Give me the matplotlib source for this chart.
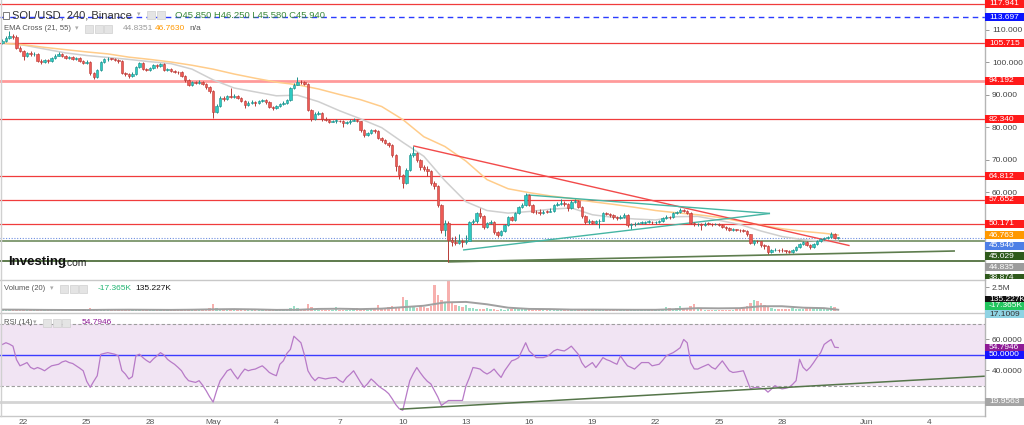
import matplotlib
matplotlib.use('Agg')
import matplotlib.pyplot as plt
import matplotlib.dates as mdates
from matplotlib.patches import Rectangle
from matplotlib.lines import Line2D
import numpy as np
import pandas as pd

plt.rcParams['font.family'] = ['Liberation Sans', 'DejaVu Sans']

# ---------------- data ----------------
first_open = 106.0
closes = [
    106.5, 107.5, 108.0, 107.8, 104.3, 103.5, 102.0, 102.8, 102.4, 102.6,
    100.4, 100.0, 100.6, 100.3, 101.2, 102.0, 102.4, 101.8, 101.3, 101.6,
    101.0, 101.2, 100.3, 99.8, 100.0, 96.5, 95.4, 97.5, 100.0, 100.8, 101.0,
    100.9,
    100.6, 100.2, 96.6, 96.2, 95.8, 96.4, 98.5, 99.7, 97.8, 97.5,
    98.2, 99.0, 98.7, 99.3, 97.5, 97.8, 97.2, 97.0, 96.8, 95.8,
    94.5, 93.0, 93.8, 93.6, 94.0, 93.2, 92.3, 91.0, 84.6, 86.5,
    89.0, 88.6, 89.5, 89.2, 89.6, 89.0, 88.0, 86.8, 87.5, 87.8,
    87.4, 88.0, 88.2, 87.6, 86.2, 85.8, 86.4, 87.0, 87.5, 88.3,
    92.0, 93.0, 94.0, 93.8, 93.2, 85.2, 82.5, 84.0, 84.3, 82.5,
    82.2, 81.6,
    81.9,
    82.0, 81.8, 81.2, 81.4, 82.0, 82.2, 81.8, 79.0,
    77.5, 78.2, 79.0, 78.8, 76.6, 76.0, 75.2, 74.6, 71.4, 68.0,
    65.2, 62.8, 66.8, 71.4, 72.0, 69.8, 67.7, 67.2, 66.5, 62.8,
    62.0, 56.0, 48.3, 50.5, 45.2, 44.6, 44.4, 44.8, 44.5, 45.0,
    50.8, 51.0, 53.5, 52.5, 49.2, 50.5, 50.8, 47.7, 46.8, 48.0,
    49.8, 52.3, 51.5, 53.5, 55.4, 56.0, 59.1, 56.0, 54.0, 53.8,
    53.6, 54.0,
    53.9,
    54.2, 56.0, 56.2, 56.6, 56.4, 55.0, 57.0, 57.2,
    55.4, 52.5, 50.8, 51.0, 50.6, 51.0, 51.2, 53.5, 53.2, 53.0,
    52.2, 52.0, 52.4, 53.0, 49.8, 50.0, 50.3, 50.5, 50.6, 50.8,
    50.9, 50.7, 50.8, 51.0, 52.0, 52.4, 52.2, 53.5, 53.8, 54.5,
    54.3, 53.5, 50.5, 50.0, 50.1, 49.8, 50.3, 50.2, 50.0, 50.2,
    49.9, 49.2, 48.8, 48.3, 48.4, 48.3,
    48.2,
    48.0, 47.0, 44.3, 44.9,
    44.8, 43.7, 43.5, 41.5, 42.0, 42.3, 42.1, 42.0, 41.7, 41.5,
    42.2, 43.0, 44.0, 44.6, 43.8, 43.0, 44.0, 45.0, 45.5, 45.8,
    46.0, 47.2, 45.85, 45.94,
]
highs = [
    107.0, 108.0, 109.5, 108.6, 108.2, 104.8, 103.8, 103.2, 103.3, 103.0,
    102.8, 100.8, 101.0, 101.0, 101.6, 102.4, 103.0, 102.7, 102.1, 102.0,
    101.9, 101.6, 101.5, 100.6, 100.5, 100.2, 96.9, 97.8, 100.4, 101.3, 101.4,
    101.3,
    101.3, 101.0, 100.5, 97.0, 96.6, 96.8, 98.8, 100.0, 100.0, 98.2,
    98.6, 99.4, 99.4, 99.8, 99.6, 98.2, 98.1, 97.6, 97.3, 97.1,
    96.0, 94.8, 94.2, 94.2, 94.4, 94.3, 93.5, 92.6, 91.3, 87.2,
    89.6, 89.5, 90.0, 92.0, 90.1, 89.9, 89.3, 88.3, 87.9, 88.3,
    88.1, 88.4, 88.6, 88.5, 87.9, 86.6, 86.8, 87.3, 87.9, 88.7,
    92.4, 93.6, 95.4, 94.5, 94.2, 93.5, 85.6, 84.5, 84.9, 84.6,
    83.0, 82.6,
    82.3,
    82.5, 82.3, 82.1, 81.9, 82.4, 82.7, 82.5, 82.0,
    79.3, 78.6, 79.4, 79.3, 79.0, 76.9, 76.3, 75.5, 74.9, 71.7,
    68.4, 65.6, 67.4, 71.9, 74.2, 72.4, 70.2, 68.3, 68.0, 66.9,
    63.4, 62.3, 56.3, 51.5, 51.0, 46.0, 46.5, 47.0, 45.5, 46.8,
    51.2, 51.6, 53.9, 55.0, 52.8, 50.9, 51.5, 51.1, 48.1, 48.4,
    50.2, 52.7, 52.7, 53.9, 55.8, 56.5, 59.7, 59.4, 56.3, 54.5,
    54.8, 54.5,
    54.4,
    55.0, 56.4, 56.8, 57.8, 57.2, 56.7, 57.4, 57.8,
    57.5, 55.7, 52.8, 51.6, 51.4, 51.5, 51.7, 53.9, 54.0, 53.6,
    53.3, 52.6, 52.9, 53.5, 53.3, 50.5, 50.8, 50.9, 51.0, 51.2,
    51.3, 51.2, 51.1, 51.4, 52.3, 52.8, 52.7, 53.9, 54.2, 55.0,
    54.9, 54.6, 53.8, 50.9, 50.5, 50.4, 50.7, 50.7, 50.5, 50.6,
    50.4, 50.1, 49.5, 49.1, 48.8, 48.7,
    48.6,
    48.5, 48.2, 47.2, 45.3,
    45.2, 45.0, 44.0, 43.7, 42.4, 42.7, 42.6, 42.8, 42.3, 42.0,
    42.5, 43.3, 44.3, 45.0, 44.9, 44.0, 44.3, 45.3, 45.9, 46.2,
    46.5, 47.6, 47.4, 46.25,
]
lows = [
    105.5, 106.2, 107.0, 107.0, 104.0, 103.0, 100.6, 101.6, 102.0, 102.0,
    100.0, 99.5, 99.6, 99.8, 100.0, 100.9, 101.7, 101.4, 100.9, 101.0,
    100.6, 100.7, 100.0, 99.3, 99.4, 96.0, 94.8, 95.1, 97.2, 99.7, 100.4,
    100.5,
    100.2, 99.8, 96.2, 95.7, 95.0, 95.5, 96.1, 98.2, 97.4, 97.1,
    97.2, 97.9, 98.3, 98.4, 97.1, 97.2, 96.9, 96.6, 96.4, 95.5,
    94.0, 92.6, 92.7, 93.2, 93.3, 92.8, 91.8, 90.5, 82.8, 84.2,
    86.2, 88.0, 88.2, 88.8, 88.8, 88.5, 87.6, 86.0, 86.4, 87.1,
    86.6, 87.1, 87.7, 87.2, 85.8, 85.2, 85.4, 86.1, 86.7, 87.2,
    88.0, 91.6, 92.8, 93.3, 92.8, 84.8, 82.0, 82.3, 83.6, 82.0,
    81.7, 81.1,
    81.4,
    81.3, 81.4, 80.0, 80.8, 81.0, 81.7, 81.4, 78.6,
    77.0, 77.2, 77.9, 78.3, 76.2, 75.4, 74.8, 73.8, 70.8, 66.5,
    64.0, 61.2, 62.4, 66.4, 70.8, 69.3, 66.8, 66.5, 64.8, 62.2,
    61.0, 55.4, 47.5, 46.5, 38.6, 43.5, 43.8, 44.0, 43.2, 44.0,
    44.8, 50.2, 50.6, 52.0, 48.7, 48.8, 50.0, 47.2, 46.0, 46.5,
    47.7, 49.5, 51.0, 51.2, 53.1, 55.0, 55.8, 55.6, 53.5, 53.2,
    53.0, 53.2,
    53.4,
    53.7, 54.0, 55.6, 55.9, 55.8, 54.3, 54.8, 56.6,
    55.0, 52.0, 50.3, 50.2, 50.0, 50.3, 49.0, 51.0, 52.8, 52.4,
    51.8, 51.5, 51.7, 52.1, 49.3, 48.6, 49.6, 50.0, 50.1, 50.3,
    50.4, 50.3, 50.3, 50.5, 50.7, 51.7, 51.8, 52.0, 53.2, 53.5,
    53.9, 53.1, 50.0, 49.5, 49.6, 48.3, 49.5, 49.8, 49.6, 49.7,
    49.5, 48.8, 48.4, 47.9, 48.0, 47.9,
    47.8,
    47.6, 46.6, 43.9, 43.6,
    44.2, 43.2, 42.4, 41.0, 41.1, 41.7, 41.6, 41.6, 41.2, 41.1,
    41.3, 41.9, 42.8, 43.7, 43.3, 42.6, 42.8, 43.8, 44.7, 45.2,
    45.5, 45.8, 45.5, 45.58,
]
volumes_m = [
    0.15, 0.18, 0.25, 0.12, 0.22, 0.15, 0.2, 0.1, 0.08, 0.1,
    0.18, 0.12, 0.1, 0.08, 0.12, 0.14, 0.1, 0.09, 0.08, 0.1,
    0.08, 0.1, 0.12, 0.1, 0.15, 0.32, 0.25, 0.18, 0.2, 0.12,
    0.1, 0.08, 0.09, 0.1, 0.25, 0.15, 0.12, 0.15, 0.12, 0.1,
    0.12, 0.1, 0.08, 0.1, 0.12, 0.1, 0.12, 0.1, 0.25, 0.2,
    0.15, 0.18, 0.2, 0.12, 0.1, 0.1, 0.12, 0.15, 0.2, 0.3,
    0.75, 0.35, 0.2, 0.15, 0.12, 0.12, 0.1, 0.12, 0.15, 0.1,
    0.1, 0.08, 0.08, 0.1, 0.1, 0.12, 0.12, 0.1, 0.1, 0.12,
    0.15, 0.2, 0.3, 0.55, 0.3, 0.2, 0.25, 0.75, 0.4, 0.2,
    0.15, 0.12, 0.1, 0.12, 0.15, 0.4, 0.15, 0.12, 0.1, 0.12,
    0.2, 0.35, 0.25, 0.15, 0.15, 0.2, 0.35, 0.66, 0.3, 0.25,
    0.4, 0.55, 0.4, 0.35, 1.47, 1.2, 0.5, 0.4, 0.35, 0.55,
    0.4, 0.35, 0.55, 2.76, 1.7, 1.2, 0.9, 3.1, 0.9, 0.6,
    0.5, 0.4, 0.6, 0.35, 0.3, 0.25, 0.2, 0.25, 0.35, 0.2,
    0.2, 0.15, 0.2, 0.15, 0.2, 0.2, 0.25, 0.2, 0.35, 0.3,
    0.2, 0.15, 0.12, 0.12, 0.1, 0.15, 0.12, 0.15, 0.12, 0.15,
    0.15, 0.12, 0.2, 0.25, 0.15, 0.12, 0.1, 0.15, 0.2, 0.12,
    0.1, 0.12, 0.1, 0.15, 0.12, 0.25, 0.15, 0.12, 0.1, 0.1,
    0.08, 0.1, 0.08, 0.1, 0.1, 0.12, 0.15, 0.12, 0.25, 0.4,
    0.3, 0.2, 0.3, 0.55, 0.3, 0.25, 0.55, 0.74, 0.3, 0.2,
    0.15, 0.12, 0.15, 0.12, 0.1, 0.12, 0.15, 0.12, 0.15, 0.2,
    0.3, 0.4, 0.5, 0.88, 1.18, 1.0, 0.8, 0.6, 0.4, 0.3,
    0.25, 0.2, 0.2, 0.25, 0.2, 0.3, 0.25, 0.2, 0.2, 0.3,
    0.35, 0.4, 0.3, 0.25, 0.3, 0.35, 0.55, 0.4, 0.05,
]
rsi_values = [
    56.8, 57.9, 57.0, 55.7, 47.0, 43.0, 44.0, 45.1, 42.0, 40.9,
    41.9, 41.0, 39.8, 41.5, 43.0, 43.5, 44.0, 45.5, 46.2, 45.1,
    44.5, 43.0, 41.5, 39.8, 33.0, 29.1, 33.0, 36.6, 50.4, 51.0, 51.5,
    51.0,
    50.5, 49.4, 40.0, 37.7, 34.5, 36.0, 49.4, 50.5, 48.3, 46.5,
    45.1, 47.5, 49.4, 51.5, 50.0, 47.2, 45.5, 44.0, 42.0, 39.8,
    36.0, 33.4, 32.8, 32.3, 33.4, 30.5, 27.0, 23.0, 19.6, 27.0,
    33.4, 36.5, 39.8, 40.9, 37.5, 34.5, 38.0, 40.9, 39.8, 40.5,
    40.9, 42.0, 43.0, 41.0, 38.7, 37.5, 36.6, 44.0, 46.2, 51.0,
    53.6, 62.1, 60.0, 57.9, 50.0, 39.8, 36.0, 33.4, 35.5, 35.0,
    34.5, 35.0,
    35.3,
    35.5, 33.5, 32.3, 35.5, 37.5, 39.8, 36.0, 32.3,
    29.1, 31.5, 34.5, 32.5, 30.2, 28.5, 27.0, 25.0, 21.7, 18.0,
    15.3, 14.3, 24.0, 33.4, 38.0, 41.9, 38.5, 35.5, 33.0, 31.3,
    27.0, 22.8, 17.4, 19.0, 20.6, 20.6, 20.6, 20.6, 20.6, 30.0,
    35.5, 41.9, 41.5, 40.9, 39.0, 37.7, 39.0, 40.9, 38.0, 35.5,
    39.8, 43.0, 46.2, 47.0, 48.3, 53.0, 57.9, 52.6, 50.5, 48.3,
    48.3, 48.3,
    49.0,
    50.5, 52.6, 53.6, 53.0, 52.6, 54.0, 55.7, 53.0,
    50.4, 45.0, 41.9, 43.5, 45.1, 41.9, 45.0, 48.3, 47.0, 46.2,
    45.0, 44.0, 49.4, 46.0, 43.0, 42.0, 40.9, 43.0, 45.1, 45.1,
    45.1, 43.0, 43.5, 44.0, 46.5, 49.4, 50.5, 51.5, 53.0, 54.7,
    60.0, 57.9, 45.0, 41.0, 40.9, 42.0, 43.0, 44.0, 42.0, 40.9,
    43.5, 46.2, 43.0, 39.8, 38.7, 39.0,
    39.4,
    39.8, 34.0, 28.1, 29.0,
    29.1, 28.5, 28.1, 26.0, 28.0, 30.2, 29.0, 28.1, 28.5, 29.1,
    31.0, 33.4, 47.2, 42.0, 39.8, 42.0, 45.1, 48.5, 51.5, 56.8,
    58.5, 60.0, 55.0, 54.79,
]
# indicator lines sampled once a day (every 6th bar) plus the last bar
ema21_daily = [105.8, 105.2, 104.0, 102.8, 102.0, 101.4, 100.8, 100.1, 99.5, 97.8,
               94.5, 92.0, 90.8, 89.6, 89.8, 87.8, 85.0, 82.5, 79.8, 75.3,
               71.0, 63.5, 57.0, 54.3, 53.5, 54.0, 54.7, 55.1, 53.0, 52.2,
               51.7, 51.4, 52.4, 52.5, 51.3, 50.0, 48.0, 46.3, 45.3, 44.8, 44.835]
ema55_daily = [105.8, 105.3, 104.5, 103.8, 103.1, 102.5, 101.5, 100.8, 100.0, 99.0,
               97.8, 96.3, 95.0, 93.8, 93.0, 91.7, 90.0, 88.4, 86.3, 82.3,
               77.0, 74.0, 69.5, 63.8, 61.0, 59.8, 58.8, 58.0, 57.0, 56.2,
               55.3, 54.3, 53.6, 53.0, 52.2, 51.0, 49.8, 48.7, 47.9, 47.3, 46.763]
vol_ma_daily = [0.15, 0.14, 0.12, 0.11, 0.11, 0.13, 0.14, 0.13, 0.12, 0.14,
                0.18, 0.2, 0.17, 0.12, 0.13, 0.22, 0.24, 0.2, 0.25, 0.4,
                0.55, 0.9, 0.95, 0.7, 0.35, 0.22, 0.2, 0.15, 0.15, 0.14,
                0.13, 0.13, 0.2, 0.3, 0.28, 0.3, 0.5, 0.5, 0.35, 0.3, 0.135]

red_levels = [117.941, 105.715, 94.192, 82.340, 64.812, 57.652, 50.171]
blue_level = 113.697
green_levels = [45.029, 38.874]
last_price = 45.940
ema21_last = 44.835
ema55_last = 46.763
rsi_last = 54.7946
rsi_low_level = 19.9563

trend_red = [('2022-05-10 12:00', 74.2), ('2022-05-31 05:00', 43.5)]
trend_teal_low = [('2022-05-12 20:40', 42.15), ('2022-05-27 10:20', 53.4)]
trend_teal_up = [('2022-05-15 21:40', 59.1), ('2022-05-27 10:20', 53.4)]
trend_green = [('2022-05-12 03:30', 38.5), ('2022-06-05 05:00', 41.85)]
trend_rsi = [('2022-05-09 21:00', 15.0), ('2022-06-06 15:00', 36.3)]

tick_dates = ['2022-04-22', '2022-04-25', '2022-04-28', '2022-05-01', '2022-05-04',
              '2022-05-07', '2022-05-10', '2022-05-13', '2022-05-16', '2022-05-19',
              '2022-05-22', '2022-05-25', '2022-05-28', '2022-06-01', '2022-06-04']
tick_labels = ['22', '25', '28', 'May', '4', '7', '10', '13', '16', '19', '22', '25',
               '28', 'Jun', '4']

# ---------------- figure ----------------
W, H = 1024, 425
fig = plt.figure(figsize=(W / 100, H / 100), dpi=100)
fig.patch.set_facecolor('white')


def fx(px):
    return px / W


def fy(py):
    return 1 - py / H


AXR = 985
MAIN_BOTTOM = 279
ax = fig.add_axes([0, fy(MAIN_BOTTOM), fx(AXR), MAIN_BOTTOM / H])
axv = fig.add_axes([0, fy(312), fx(AXR), 32 / H])
axr = fig.add_axes([0, fy(416), fx(AXR), 103 / H])

times = pd.date_range('2022-04-21 00:00', periods=len(closes), freq='4h')
t = mdates.date2num(times)
day0 = mdates.date2num(pd.Timestamp('2022-04-22'))
xl = (day0 - 23.5 / 21.07, day0 + (AXR - 23.5) / 21.07)
for a in (ax, axv, axr):
    a.set_xlim(*xl)
    a.set_facecolor('none')
    for s in a.spines.values():
        s.set_visible(False)
    a.tick_params(axis='x', length=0, labelbottom=False)
    a.yaxis.tick_right()
    a.tick_params(axis='y', length=3, width=0.6, color='#888888', pad=2,
                  labelsize=6, labelcolor='#444444')

ax.set_ylim(33.23, 119.08)
axv.set_ylim(-0.1, 3.23)
axr.set_ylim(10.6, 77.1)

c = np.array(closes)
o = np.array([first_open] + closes[:-1])
hi = np.array(highs)
lo = np.array(lows)
up = c >= o
UPC, DNC = '#2ec9c1', '#ee5a55'
UPE, DNE = '#1c8f8a', '#b73b37'
bw = 4 / 24 * 0.7

# horizontal levels
for lv in red_levels:
    if abs(lv - 94.192) < 1e-6:
        ax.axhline(lv, color='#ff9a9a', lw=2.0, zorder=1)
    else:
        ax.axhline(lv, color='#f03c3c', lw=0.9, zorder=1)
ax.axhline(blue_level, color='#2a3cff', lw=1.0, ls=(0, (4, 3)), zorder=1)
ax.axhline(green_levels[0], color='#6f8c5f', lw=1.2, zorder=1)
ax.axhline(green_levels[1], color='#5d7a4c', lw=1.4, zorder=1)
ax.axhline(last_price, color='#6f8fe0', lw=0.8, ls=(0, (1, 1.5)), zorder=1)

# EMA lines
t_daily = list(t[::6]) + [t[-1]]
ax.plot(t_daily, ema21_daily, color='#cfcfcf', lw=1.1, zorder=2)
ax.plot(t_daily, ema55_daily, color='#ffcc8a', lw=1.1, zorder=2)


# trend lines
def tl(axis, pts, color, lw):
    xs = [mdates.date2num(pd.Timestamp(p[0])) for p in pts]
    ys = [p[1] for p in pts]
    axis.plot(xs, ys, color=color, lw=lw, zorder=3, solid_capstyle='butt')


tl(ax, trend_red, '#f24a4a', 1.0)
tl(ax, trend_teal_low, '#45b5a3', 1.0)
tl(ax, trend_teal_up, '#45b5a3', 1.0)
tl(ax, trend_green, '#5e7d4e', 1.2)

# candles
wick_col = np.where(up, UPE, DNE)
ax.vlines(t, lo, hi, colors=wick_col, lw=0.7, zorder=4)
ax.bar(t, np.maximum(np.abs(c - o), 0.2), bottom=np.minimum(o, c), width=bw,
       color=np.where(up, UPC, DNC), edgecolor=np.where(up, UPE, DNE), lw=0.4,
       zorder=5)

ax.set_yticks([60, 70, 80, 90, 100, 110])
ax.set_yticklabels(['%.3f' % v for v in [60, 70, 80, 90, 100, 110]])

# volume
vcol = np.where(up, '#8fdcc0', '#f7a8a5')
axv.bar(t, volumes_m, width=bw, color=vcol, lw=0, alpha=0.9)
axv.plot(t_daily, vol_ma_daily, color='#a0a0a0', lw=1.4)
axv.set_yticks([2.5])
axv.set_yticklabels(['2.5M'])

# RSI
axr.axhspan(30, 70, color='#f1e4f3', lw=0)
axr.axhline(70, color='#9e9e9e', lw=0.8, ls=(0, (3, 2)))
axr.axhline(30, color='#9e9e9e', lw=0.8, ls=(0, (3, 2)))
axr.axhline(50, color='#3b3bff', lw=1.0)
axr.axhline(rsi_low_level, color='#d4d4d4', lw=2.0)
axr.plot(t, rsi_values, color='#b77ac7', lw=0.9)
tl(axr, trend_rsi, '#55754a', 1.1)
axr.set_yticks([40, 60])
axr.set_yticklabels(['40.0000', '60.0000'])
axr.set_xticks([mdates.date2num(pd.Timestamp(d)) for d in tick_dates])
axr.set_xticklabels(tick_labels)
axr.tick_params(axis='x', labelbottom=True, labelsize=6, labelcolor='#555555',
                length=0, pad=2.5)

# pane borders
for yy in (279.5, 312.5, 416):
    fig.add_artist(Line2D([0, fx(AXR)], [fy(yy), fy(yy)], color='#c8c8c8', lw=1.0))
fig.add_artist(Line2D([fx(AXR), fx(AXR)], [fy(0), fy(416)], color='#b5b5b5', lw=1.0))
fig.add_artist(Line2D([fx(0.5), fx(0.5)], [fy(0), fy(416)], color='#d0d0d0', lw=1.0))

# right side value boxes
fig.canvas.draw()


def ypix(axis, val):
    return H - axis.transData.transform((xl[0], val))[1]


def vbox(ypx, text, fc, tc='white', h=8.0, clip_bottom=None):
    top = ypx - h / 2
    bot = ypx + h / 2
    if clip_bottom is not None:
        bot = min(bot, clip_bottom)
    rect = Rectangle((fx(AXR), fy(bot)), fx(W - AXR), (bot - top) / H,
                     facecolor=fc, edgecolor='none', zorder=10)
    fig.add_artist(rect)
    txt = fig.text(fx(AXR + 4), fy(ypx), text, color=tc, fontsize=6, va='center',
                   ha='left', zorder=11)
    if clip_bottom is not None:
        txt.set_clip_path(rect)


main_boxes = [(117.941, '#ff1a1a'), (113.697, '#0a14ff'), (105.715, '#ff1a1a'),
              (94.192, '#ff1a1a'), (82.340, '#ff1a1a'), (64.812, '#ff1a1a'),
              (57.652, '#ff1a1a'), (50.171, '#ff1a1a'), (ema55_last, '#ff9800'),
              (last_price, '#4d7fe6'), (green_levels[0], '#2f5a1c'),
              (ema21_last, '#9c9c9c'), (green_levels[1], '#2f5a1c')]
prev = -100
for val, col in main_boxes:
    yp = max(ypix(ax, val), prev + 10.7)
    prev = yp
    vbox(yp, '%.3f' % val, col, clip_bottom=MAIN_BOTTOM)

vbox(299.5, '135.227K', '#111111')
vbox(305.5, '-17.365K', '#22c55e')
vbox(314.0, '17.1009', '#8fd3e3', tc='#333333')
vbox(ypix(axr, rsi_last), '%.4f' % rsi_last, '#8e1b96')
vbox(ypix(axr, 50), '50.0000', '#1414ff')
vbox(ypix(axr, rsi_low_level), '%.4f' % rsi_low_level, '#a5a5a5')


# header texts
def icons(x0, y0, n):
    for k in range(n):
        fig.add_artist(Rectangle((fx(x0 + k * 9.5), fy(y0 + 4)), 8 / W, 8 / H,
                                 facecolor='#e4e4e4', edgecolor='#cfcfcf', lw=0.5,
                                 zorder=10))


fig.add_artist(Rectangle((fx(3), fy(19)), 6 / W, 7 / H, facecolor='white',
                         edgecolor='#666666', lw=0.6, zorder=10))
fig.text(fx(12), fy(15), 'SOL/USD, 240, Binance', fontsize=8, color='#333333',
         va='center', zorder=11)
fig.text(fx(137), fy(15), '\u25be', fontsize=5, color='#aaaaaa', va='center')
icons(147, 15, 2)
fig.text(fx(175), fy(15), 'O45.850 H46.250 L45.580 C45.940', fontsize=6.8,
         color='#3b8a3b', va='center', zorder=11)

fig.text(fx(4), fy(29), 'EMA Cross (21, 55)', fontsize=5.5, color='#555555',
         va='center')
fig.text(fx(75), fy(29), '\u25be', fontsize=5, color='#aaaaaa', va='center')
icons(85, 29, 3)
fig.text(fx(123), fy(29), '44.8351', fontsize=6, color='#999999', va='center')
fig.text(fx(155), fy(29), '46.7630', fontsize=6, color='#ff9800', va='center')
fig.text(fx(189), fy(29), 'n/a', fontsize=6, color='#555555', va='center')

fig.text(fx(4), fy(289), 'Volume (20)', fontsize=5.5, color='#555555', va='center')
fig.text(fx(50), fy(289), '\u25be', fontsize=5, color='#aaaaaa', va='center')
icons(60, 289, 3)
fig.text(fx(98), fy(289), '-17.365K', fontsize=6, color='#22b573', va='center')
fig.text(fx(135), fy(289), '135.227K', fontsize=6, color='#111111', va='center')

fig.text(fx(4), fy(323), 'RSI (14)', fontsize=5.5, color='#555555', va='center')
fig.text(fx(33), fy(323), '\u25be', fontsize=5, color='#aaaaaa', va='center')
icons(43, 323, 3)
fig.text(fx(82), fy(323), '54.7946', fontsize=6, color='#8e1b96', va='center')

fig.text(fx(8), fy(262), 'Investing', fontsize=9.5, fontweight='bold',
         color='#111111', va='center')
fig.text(fx(64), fy(263.5), '.com', fontsize=7.5, color='#222222', va='center')

fig.savefig('out.png', dpi=100, facecolor='white')
